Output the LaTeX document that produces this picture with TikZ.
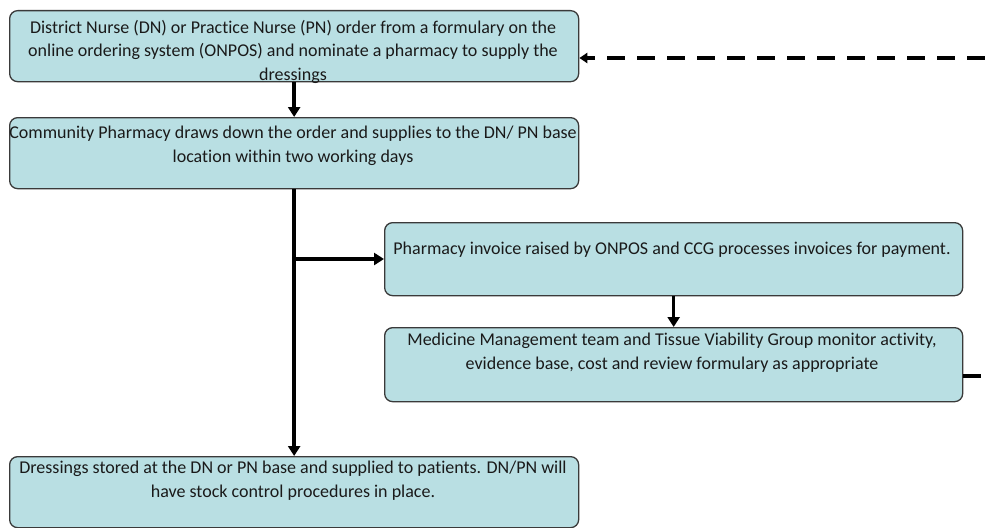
\documentclass[tikz,border=0pt]{standalone}
\usepackage{fontspec}
\setmainfont{Carlito}[Ligatures=NoCommon]
\usetikzlibrary{arrows.meta}
\definecolor{boxfill}{HTML}{B9DFE3}
\definecolor{boxline}{HTML}{3A3A3A}
\definecolor{txt}{HTML}{1A1A1A}
\begin{document}
\begin{tikzpicture}[x=1pt,y=-1pt,
  box/.style={draw=boxline,fill=boxfill,line width=1.3pt,rounded corners=8pt,inner sep=0pt,anchor=north west},
  lbl/.style={anchor=north,align=center,inner sep=0pt,text=txt,font=\fontsize{18}{23.5}\selectfont},
  flow/.style={line width=3.5pt,-{Triangle[length=10pt,width=12pt]}},
  back/.style={line width=3.5pt,dash pattern=on 18pt off 12pt,-{Triangle[length=8pt,width=10pt]}}]
\useasboundingbox (0,0) rectangle (992,527);
\clip (0,0) rectangle (992,527);
\node[box,minimum width=569pt,minimum height=71pt] (b1) at (9,10) {};
\node[box,minimum width=569pt,minimum height=71pt] (b2) at (9,117) {};
\node[box,minimum width=578pt,minimum height=73pt] (b3) at (384,222) {};
\node[box,minimum width=578pt,minimum height=74pt] (b4) at (384,327) {};
\node[box,minimum width=569pt,minimum height=71pt] (b5) at (9,456) {};
\node[lbl] (t1) at (293,20) {District Nurse (DN) or Practice Nurse (PN) order from a formulary on the\\online ordering system (ONPOS) and nominate a pharmacy to supply the\\dressings};
\node[lbl] (t2) at (293,126) {Community Pharmacy draws down the order and supplies to the DN/ PN base\\location within two working days};
\node[lbl] (t3) at (672,242) {Pharmacy invoice raised by ONPOS and CCG processes invoices for payment.};
\node[lbl] (t4) at (672,333) {Medicine Management team and Tissue Viability Group monitor activity,\\evidence base, cost and review formulary as appropriate};
\node[lbl] (t5) at (293,461) {Dressings stored at the DN or PN base and supplied to patients. DN/PN will\\have stock control procedures in place.};
\coordinate (j) at (b2.south |- 0,259);
\coordinate (r1) at (1010,376);
\coordinate (r2) at (1010,58);
\draw[flow] (b1.south) -- (b2.north);
\draw[flow] (b2.south) -- (b5.north);
\draw[flow] (j) -- (b3.west |- j);
\draw[flow] (b3.south) -- (b4.north);
\draw[back] (b4.east |- r1) -- (r1) -- (r2) -- (b1.east |- r2);
\end{tikzpicture}
\end{document}
